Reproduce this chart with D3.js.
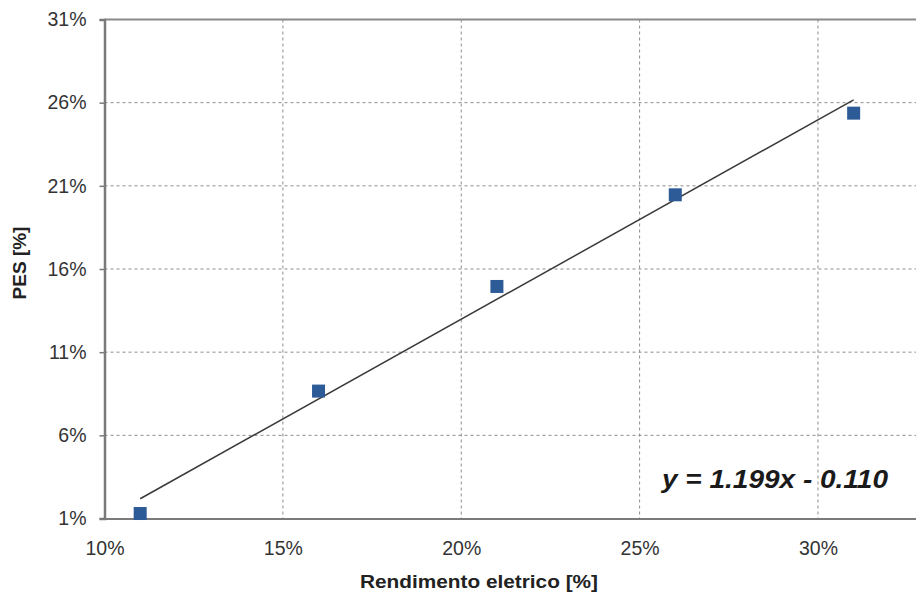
<!DOCTYPE html>
<html lang="en">
<head>
<meta charset="utf-8">
<script src="https://d3js.org/d3.v7.min.js"></script>
<title>PES vs Rendimento eletrico</title>
<style>
  body { margin: 0; background: #fff; }
  svg { display: block; font-family: "Liberation Sans", Arial, sans-serif; }
  .tick text { font-family: "Liberation Sans", Arial, sans-serif; font-size: 19.5px; fill: #333; }
</style>
</head>
<body>
<div id="chart"></div>
<script>
// data
const rendimento = [0.11, 0.16, 0.21, 0.26, 0.31];
const pes = [0.013, 0.0866, 0.1495, 0.2046, 0.2537];
const xTicks = [0.10, 0.15, 0.20, 0.25, 0.30];
const yTicks = [0.01, 0.06, 0.11, 0.16, 0.21, 0.26, 0.31];
const slope = 1.199, intercept = -0.110;
const equation = "y = 1.199x - 0.110";

const W = 916, H = 592;
const svg = d3.select("#chart").append("svg")
  .attr("width", W).attr("height", H);

const x = d3.scaleLinear().domain([0.10, 0.33]).range([104.5, 925]);
const y = d3.scaleLinear().domain([0.01, 0.31]).range([518.5, 19.5]);
const fmt = d => Math.round(d * 100) + "%";

// grid
svg.append("g").selectAll("line")
  .data(yTicks.slice(1, -1))
  .join("line")
  .attr("x1", x(0.10)).attr("x2", W)
  .attr("y1", d => y(d)).attr("y2", d => y(d))
  .attr("stroke", "#8c8c8c").attr("stroke-width", 1)
  .attr("stroke-dasharray", "3,3");

svg.append("g").selectAll("line")
  .data(xTicks.slice(1))
  .join("line")
  .attr("x1", d => x(d)).attr("x2", d => x(d))
  .attr("y1", y(0.31)).attr("y2", y(0.01))
  .attr("stroke", "#8c8c8c").attr("stroke-width", 1)
  .attr("stroke-dasharray", "3,3");

// top border of the plot
svg.append("line")
  .attr("x1", x(0.10)).attr("x2", W)
  .attr("y1", y(0.31)).attr("y2", y(0.31))
  .attr("stroke", "#8a8a8a").attr("stroke-width", 2);

// y axis
const yAxis = svg.append("g")
  .attr("transform", `translate(${x(0.10)},0)`)
  .call(d3.axisLeft(y).tickValues(yTicks).tickFormat(fmt).tickSize(5).tickPadding(13));
yAxis.select(".domain").attr("stroke", "#7a7a7a").attr("stroke-width", 2.5);
yAxis.selectAll(".tick line").attr("stroke", "#7a7a7a").attr("stroke-width", 1.5);

// x axis
const xAxis = svg.append("g")
  .attr("transform", `translate(0,${y(0.01)})`)
  .call(d3.axisBottom(x).tickValues(xTicks).tickFormat(fmt).tickSize(0).tickPadding(23));
xAxis.select(".domain").attr("stroke", "#7a7a7a").attr("stroke-width", 2);

// trend line
const x0 = rendimento[0], x1 = rendimento[rendimento.length - 1];
svg.append("line")
  .attr("x1", x(x0)).attr("y1", y(slope * x0 + intercept))
  .attr("x2", x(x1)).attr("y2", y(slope * x1 + intercept))
  .attr("stroke", "#3a3a3a").attr("stroke-width", 1.5);

// points
const S = 13;
svg.append("g").selectAll("rect")
  .data(rendimento.map((d, i) => [d, pes[i]]))
  .join("rect")
  .attr("x", d => x(d[0]) - S / 2)
  .attr("y", d => y(d[1]) - S / 2)
  .attr("width", S).attr("height", S)
  .attr("fill", "#2d5b97");

// equation
svg.append("text")
  .attr("x", 662).attr("y", 488)
  .attr("font-size", 25).attr("font-weight", "bold").attr("font-style", "italic")
  .attr("textLength", 226).attr("lengthAdjust", "spacingAndGlyphs")
  .attr("fill", "#1a1a1a")
  .text(equation);

// axis titles
svg.append("text")
  .attr("transform", "translate(26,263) rotate(-90)")
  .attr("text-anchor", "middle")
  .attr("font-size", 19).attr("font-weight", "bold").attr("fill", "#222")
  .text("PES [%]");

svg.append("text")
  .attr("x", 360).attr("y", 588)
  .attr("font-size", 18).attr("font-weight", "bold").attr("fill", "#222")
  .attr("textLength", 238).attr("lengthAdjust", "spacingAndGlyphs")
  .text("Rendimento eletrico [%]");
</script>
</body>
</html>
